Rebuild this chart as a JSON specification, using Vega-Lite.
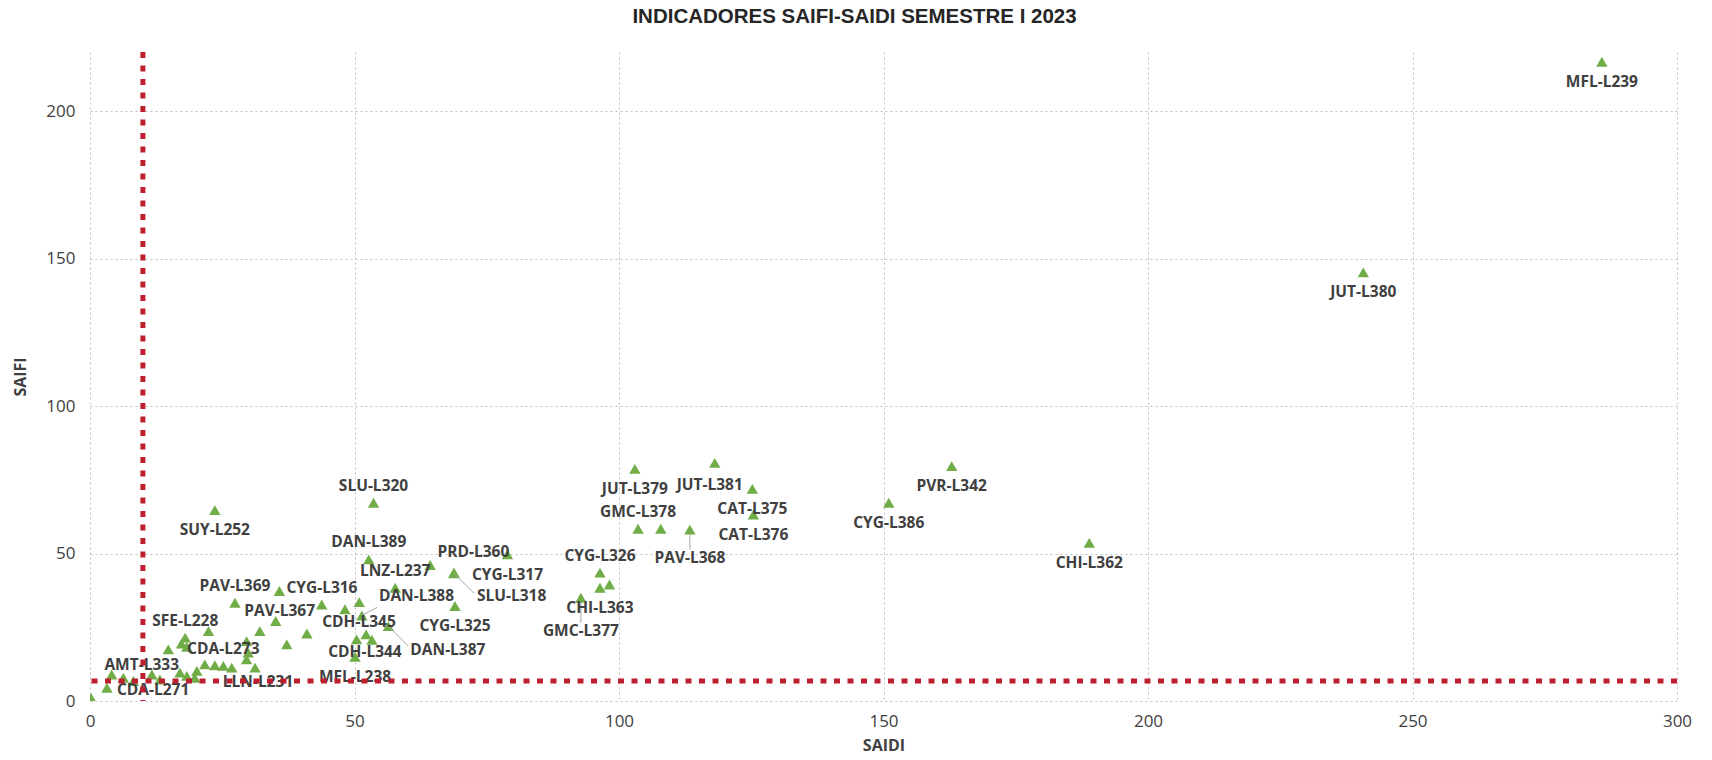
{
  "$schema": "https://vega.github.io/schema/vega-lite/v6.json",
  "width": 1587,
  "height": 649,
  "autosize": {"type": "none"},
  "padding": {"left": 90, "top": 52, "right": 35, "bottom": 59},
  "background": "white",
  "title": {
    "text": "INDICADORES SAIFI-SAIDI SEMESTRE I 2023",
    "font": "Liberation Sans",
    "fontSize": 20.5,
    "fontWeight": "bold",
    "color": "#262626",
    "anchor": "middle",
    "frame": "group",
    "dx": -29,
    "offset": 22
  },
  "config": {
    "view": {"stroke": null},
    "axis": {
      "labelFont": "Open Sans",
      "labelFontSize": 17,
      "labelColor": "#404040",
      "labelFlush": false,
      "titleFont": "Open Sans",
      "titleFontSize": 16,
      "titleFontWeight": "bold",
      "titleColor": "#404040",
      "domain": false,
      "ticks": false,
      "tickSize": 0,
      "grid": true,
      "gridColor": "#BFBFBF",
      "gridDash": [2, 3],
      "gridWidth": 1
    }
  },
  "datasets": {
    "lineas": [
      {"linea": "MFL-L239", "SAIDI": 285.8, "SAIFI": 216.7},
      {"linea": "JUT-L380", "SAIDI": 240.7, "SAIFI": 145.3},
      {"linea": "PVR-L342", "SAIDI": 162.9, "SAIFI": 79.6},
      {"linea": "CYG-L386", "SAIDI": 151.0, "SAIFI": 67.2},
      {"linea": "CHI-L362", "SAIDI": 188.9, "SAIFI": 53.6},
      {"linea": "JUT-L381", "SAIDI": 118.1, "SAIFI": 80.7},
      {"linea": "CAT-L375", "SAIDI": 125.2, "SAIFI": 71.9},
      {"linea": "CAT-L376", "SAIDI": 125.4, "SAIFI": 63.2},
      {"linea": "JUT-L379", "SAIDI": 103.0, "SAIFI": 78.7},
      {"linea": "GMC-L378", "SAIDI": 103.6, "SAIFI": 58.4},
      {"linea": "", "SAIDI": 107.9, "SAIFI": 58.4},
      {"linea": "PAV-L368", "SAIDI": 113.4, "SAIFI": 58.1},
      {"linea": "CYG-L326", "SAIDI": 96.4, "SAIFI": 43.5},
      {"linea": "CHI-L363", "SAIDI": 96.4, "SAIFI": 38.4},
      {"linea": "", "SAIDI": 98.2, "SAIFI": 39.5},
      {"linea": "GMC-L377", "SAIDI": 92.8, "SAIFI": 35.0},
      {"linea": "SLU-L320", "SAIDI": 53.6, "SAIFI": 67.2},
      {"linea": "DAN-L389", "SAIDI": 52.7, "SAIFI": 48.0},
      {"linea": "PRD-L360", "SAIDI": 78.9, "SAIFI": 49.7},
      {"linea": "", "SAIDI": 64.3, "SAIFI": 46.1},
      {"linea": "CYG-L317", "SAIDI": 68.8, "SAIFI": 43.5},
      {"linea": "SLU-L318", "SAIDI": 68.8, "SAIFI": 43.3},
      {"linea": "LNZ-L237", "SAIDI": 57.7, "SAIFI": 38.4},
      {"linea": "CYG-L325", "SAIDI": 69.0, "SAIFI": 32.2},
      {"linea": "", "SAIDI": 43.8, "SAIFI": 32.7},
      {"linea": "CDH-L345", "SAIDI": 48.2, "SAIFI": 31.1},
      {"linea": "", "SAIDI": 50.9, "SAIFI": 33.5},
      {"linea": "DAN-L388", "SAIDI": 51.4, "SAIFI": 29.0},
      {"linea": "DAN-L387", "SAIDI": 56.4, "SAIFI": 25.4},
      {"linea": "", "SAIDI": 50.4, "SAIFI": 20.9},
      {"linea": "", "SAIDI": 52.2, "SAIFI": 22.6},
      {"linea": "CDH-L344", "SAIDI": 53.3, "SAIFI": 20.7},
      {"linea": "MFL-L238", "SAIDI": 50.1, "SAIFI": 15.0},
      {"linea": "CYG-L316", "SAIDI": 35.8, "SAIFI": 37.3},
      {"linea": "PAV-L369", "SAIDI": 27.4, "SAIFI": 33.3},
      {"linea": "PAV-L367", "SAIDI": 35.1, "SAIFI": 27.1},
      {"linea": "", "SAIDI": 32.1, "SAIFI": 23.7},
      {"linea": "", "SAIDI": 41.0, "SAIFI": 22.9},
      {"linea": "", "SAIDI": 37.2, "SAIFI": 19.2},
      {"linea": "", "SAIDI": 29.6, "SAIFI": 20.3},
      {"linea": "", "SAIDI": 29.9, "SAIFI": 16.4},
      {"linea": "", "SAIDI": 29.6, "SAIFI": 14.1},
      {"linea": "LLN-L231", "SAIDI": 31.2, "SAIFI": 11.3},
      {"linea": "", "SAIDI": 22.4, "SAIFI": 23.7},
      {"linea": "SFE-L228", "SAIDI": 18.0, "SAIFI": 21.5},
      {"linea": "", "SAIDI": 17.3, "SAIFI": 19.5},
      {"linea": "", "SAIDI": 18.3, "SAIFI": 18.4},
      {"linea": "", "SAIDI": 14.8, "SAIFI": 17.5},
      {"linea": "", "SAIDI": 17.0, "SAIFI": 9.6},
      {"linea": "", "SAIDI": 18.3, "SAIFI": 8.5},
      {"linea": "", "SAIDI": 20.2, "SAIFI": 10.2},
      {"linea": "", "SAIDI": 21.7, "SAIFI": 12.4},
      {"linea": "", "SAIDI": 23.6, "SAIFI": 12.1},
      {"linea": "CDA-L273", "SAIDI": 25.2, "SAIFI": 11.9},
      {"linea": "", "SAIDI": 26.8, "SAIFI": 11.3},
      {"linea": "", "SAIDI": 19.8, "SAIFI": 7.9},
      {"linea": "", "SAIDI": 11.7, "SAIFI": 9.0},
      {"linea": "", "SAIDI": 13.2, "SAIFI": 7.3},
      {"linea": "", "SAIDI": 8.2, "SAIFI": 6.8},
      {"linea": "", "SAIDI": 6.3, "SAIFI": 7.9},
      {"linea": "AMT-L333", "SAIDI": 4.1, "SAIFI": 9.0},
      {"linea": "CDA-L271", "SAIDI": 3.2, "SAIFI": 4.5},
      {"linea": "", "SAIDI": 0.2, "SAIFI": 1.0},
      {"linea": "SUY-L252", "SAIDI": 23.6, "SAIFI": 64.7}
    ],
    "umbrales": [
      {"indicador": "SAIDI", "SAIDI": 10},
      {"indicador": "SAIFI", "SAIFI": 6.8}
    ]
  },
  "data": {"name": "lineas"},
  "encoding": {
    "x": {
      "field": "SAIDI", "type": "quantitative",
      "scale": {"domain": [0, 300], "nice": false, "zero": true},
      "axis": {"values": [0, 50, 100, 150, 200, 250, 300], "labelPadding": 12, "titlePadding": 8, "title": "SAIDI"}
    },
    "y": {
      "field": "SAIFI", "type": "quantitative",
      "scale": {"domain": [0, 220], "nice": false},
      "axis": {"values": [0, 50, 100, 150, 200], "labelPadding": 15, "titlePadding": 17, "title": "SAIFI"}
    }
  },
  "layer": [
    {
      "mark": {"type": "point", "shape": "triangle-up", "filled": true, "size": 130, "color": "#70AD47", "opacity": 1, "clip": true}
    },
    {
      "transform": [{"filter": {"field": "linea", "oneOf": ["PAV-L368"]}}],
      "mark": {"type": "rule", "color": "#A6A6A6", "strokeWidth": 1, "yOffset": 5, "y2Offset": 20},
      "encoding": {"x2": {"field": "SAIDI"}, "y2": {"field": "SAIFI"}}
    },
    {
      "transform": [{"filter": {"field": "linea", "oneOf": ["GMC-L377"]}}],
      "mark": {"type": "rule", "color": "#A6A6A6", "strokeWidth": 1, "yOffset": 5, "y2Offset": 25},
      "encoding": {"x2": {"field": "SAIDI"}, "y2": {"field": "SAIFI"}}
    },
    {
      "transform": [{"filter": {"field": "linea", "oneOf": ["SLU-L318", "DAN-L387"]}}],
      "mark": {"type": "rule", "color": "#A6A6A6", "strokeWidth": 1, "x2Offset": 20, "y2Offset": 20},
      "encoding": {"x2": {"field": "SAIDI"}, "y2": {"field": "SAIFI"}}
    },
    {
      "transform": [{"filter": {"field": "linea", "oneOf": ["DAN-L388"]}}],
      "mark": {"type": "rule", "color": "#A6A6A6", "strokeWidth": 1, "x2Offset": 15, "y2Offset": -8},
      "encoding": {"x2": {"field": "SAIDI"}, "y2": {"field": "SAIFI"}}
    },
    {
      "transform": [{"filter": {"field": "linea", "oneOf": ["MFL-L239", "JUT-L380", "PVR-L342", "CYG-L386", "CHI-L362", "JUT-L379", "CAT-L375", "CAT-L376", "CHI-L363", "CYG-L325", "MFL-L238", "SUY-L252"]}}],
      "mark": {"type": "text", "font": "Open Sans", "fontSize": 15.5, "fontWeight": "bold", "color": "#404040", "baseline": "middle", "align": "center", "dy": 20},
      "encoding": {"text": {"field": "linea"}}
    },
    {
      "transform": [{"filter": {"field": "linea", "oneOf": ["GMC-L378", "CYG-L326", "SLU-L320", "DAN-L389", "LNZ-L237", "PAV-L369", "CDA-L273", "SFE-L228"]}}],
      "mark": {"type": "text", "font": "Open Sans", "fontSize": 15.5, "fontWeight": "bold", "color": "#404040", "baseline": "middle", "align": "center", "dy": -17},
      "encoding": {"text": {"field": "linea"}}
    },
    {
      "transform": [{"filter": {"field": "linea", "oneOf": ["JUT-L381"]}}],
      "mark": {"type": "text", "font": "Open Sans", "fontSize": 15.5, "fontWeight": "bold", "color": "#404040", "baseline": "middle", "align": "center", "dx": -5, "dy": 22},
      "encoding": {"text": {"field": "linea"}}
    },
    {
      "transform": [{"filter": {"field": "linea", "oneOf": ["PAV-L368"]}}],
      "mark": {"type": "text", "font": "Open Sans", "fontSize": 15.5, "fontWeight": "bold", "color": "#404040", "baseline": "middle", "align": "center", "dy": 28},
      "encoding": {"text": {"field": "linea"}}
    },
    {
      "transform": [{"filter": {"field": "linea", "oneOf": ["GMC-L377"]}}],
      "mark": {"type": "text", "font": "Open Sans", "fontSize": 15.5, "fontWeight": "bold", "color": "#404040", "baseline": "middle", "align": "center", "dy": 33},
      "encoding": {"text": {"field": "linea"}}
    },
    {
      "transform": [{"filter": {"field": "linea", "oneOf": ["PRD-L360"]}}],
      "mark": {"type": "text", "font": "Open Sans", "fontSize": 15.5, "fontWeight": "bold", "color": "#404040", "baseline": "middle", "align": "center", "dx": -34, "dy": -2},
      "encoding": {"text": {"field": "linea"}}
    },
    {
      "transform": [{"filter": {"field": "linea", "oneOf": ["CYG-L317"]}}],
      "mark": {"type": "text", "font": "Open Sans", "fontSize": 15.5, "fontWeight": "bold", "color": "#404040", "baseline": "middle", "align": "left", "dx": 18, "dy": 2},
      "encoding": {"text": {"field": "linea"}}
    },
    {
      "transform": [{"filter": {"field": "linea", "oneOf": ["SLU-L318"]}}],
      "mark": {"type": "text", "font": "Open Sans", "fontSize": 15.5, "fontWeight": "bold", "color": "#404040", "baseline": "middle", "align": "left", "dx": 23, "dy": 23},
      "encoding": {"text": {"field": "linea"}}
    },
    {
      "transform": [{"filter": {"field": "linea", "oneOf": ["DAN-L388"]}}],
      "mark": {"type": "text", "font": "Open Sans", "fontSize": 15.5, "fontWeight": "bold", "color": "#404040", "baseline": "middle", "align": "left", "dx": 17, "dy": -19},
      "encoding": {"text": {"field": "linea"}}
    },
    {
      "transform": [{"filter": {"field": "linea", "oneOf": ["CDH-L345"]}}],
      "mark": {"type": "text", "font": "Open Sans", "fontSize": 15.5, "fontWeight": "bold", "color": "#404040", "baseline": "middle", "align": "center", "dx": 14, "dy": 13},
      "encoding": {"text": {"field": "linea"}}
    },
    {
      "transform": [{"filter": {"field": "linea", "oneOf": ["DAN-L387"]}}],
      "mark": {"type": "text", "font": "Open Sans", "fontSize": 15.5, "fontWeight": "bold", "color": "#404040", "baseline": "middle", "align": "left", "dx": 22, "dy": 24},
      "encoding": {"text": {"field": "linea"}}
    },
    {
      "transform": [{"filter": {"field": "linea", "oneOf": ["CDH-L344"]}}],
      "mark": {"type": "text", "font": "Open Sans", "fontSize": 15.5, "fontWeight": "bold", "color": "#404040", "baseline": "middle", "align": "center", "dx": -7, "dy": 12},
      "encoding": {"text": {"field": "linea"}}
    },
    {
      "transform": [{"filter": {"field": "linea", "oneOf": ["PAV-L367"]}}],
      "mark": {"type": "text", "font": "Open Sans", "fontSize": 15.5, "fontWeight": "bold", "color": "#404040", "baseline": "middle", "align": "center", "dx": 4, "dy": -10},
      "encoding": {"text": {"field": "linea"}}
    },
    {
      "transform": [{"filter": {"field": "linea", "oneOf": ["CYG-L316"]}}],
      "mark": {"type": "text", "font": "Open Sans", "fontSize": 15.5, "fontWeight": "bold", "color": "#404040", "baseline": "middle", "align": "left", "dx": 7, "dy": -3},
      "encoding": {"text": {"field": "linea"}}
    },
    {
      "transform": [{"filter": {"field": "linea", "oneOf": ["AMT-L333"]}}],
      "mark": {"type": "text", "font": "Open Sans", "fontSize": 15.5, "fontWeight": "bold", "color": "#404040", "baseline": "middle", "align": "center", "dx": 30, "dy": -9},
      "encoding": {"text": {"field": "linea"}}
    },
    {
      "transform": [{"filter": {"field": "linea", "oneOf": ["CDA-L271"]}}],
      "mark": {"type": "text", "font": "Open Sans", "fontSize": 15.5, "fontWeight": "bold", "color": "#404040", "baseline": "middle", "align": "left", "dx": 10, "dy": 2},
      "encoding": {"text": {"field": "linea"}}
    },
    {
      "transform": [{"filter": {"field": "linea", "oneOf": ["LLN-L231"]}}],
      "mark": {"type": "text", "font": "Open Sans", "fontSize": 15.5, "fontWeight": "bold", "color": "#404040", "baseline": "middle", "align": "center", "dx": 3, "dy": 14},
      "encoding": {"text": {"field": "linea"}}
    },
    {
      "data": {"name": "umbrales"},
      "transform": [{"filter": "datum.indicador === 'SAIDI'"}],
      "mark": {"type": "rule", "color": "#BE1E2D", "strokeWidth": 5, "strokeDash": [6, 7.5]},
      "encoding": {"x": {"field": "SAIDI", "type": "quantitative"}, "y": null}
    },
    {
      "data": {"name": "umbrales"},
      "transform": [{"filter": "datum.indicador === 'SAIFI'"}],
      "mark": {"type": "rule", "color": "#BE1E2D", "strokeWidth": 5, "strokeDash": [6, 7.5]},
      "encoding": {"y": {"field": "SAIFI", "type": "quantitative"}, "x": null}
    }
  ]
}
